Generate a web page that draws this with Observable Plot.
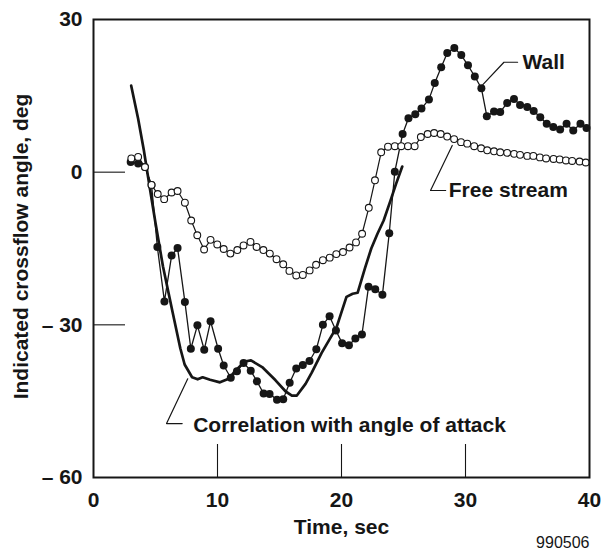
<!DOCTYPE html>
<html>
<head>
<meta charset="utf-8">
<script src="https://cdn.jsdelivr.net/npm/d3@7"></script>
<script src="https://cdn.jsdelivr.net/npm/@observablehq/plot@0.6"></script>
<style>
  html, body { margin: 0; padding: 0; background: #fff; }
  #chart { width: 603px; height: 550px; }
</style>
</head>
<body>
<div id="chart"></div>
<script>
// ---- Data ----
const wallTime = [3.0,3.6,4.15,4.68,5.15,5.72,6.3,6.78,7.37,7.85,8.38,8.93,9.44,10.05,10.5,11.07,11.57,12.1,12.68,13.18,13.72,14.2,14.8,15.3,15.82,16.35,16.88,17.42,17.97,18.5,19.04,19.55,20.05,20.6,21.12,21.65,22.18,22.72,23.3,23.85,24.3,24.93,25.4,25.95,26.45,27.05,27.52,28.04,28.53,29.1,29.66,30.2,30.75,31.28,31.72,32.3,32.8,33.36,33.91,34.4,34.98,35.5,36.03,36.55,37.08,37.63,38.15,38.69,39.27,39.76];
const wallAngle = [2.0,1.7,1.0,-2.5,-14.7,-25.4,-16.4,-14.9,-25.5,-34.7,-30.1,-34.9,-29.3,-34.7,-38.0,-40.4,-39.1,-37.5,-39.0,-41.1,-43.5,-43.6,-44.7,-44.6,-41.4,-38.6,-37.9,-37.1,-34.8,-30.0,-28.3,-31.1,-33.6,-34.0,-32.7,-31.9,-22.5,-23.0,-24.1,-12.0,0.1,7.5,10.6,11.4,12.5,14.3,17.5,20.6,23.4,24.4,23.0,21.0,18.8,16.5,11.0,11.9,11.8,13.6,14.4,13.2,12.8,12.0,10.8,9.5,8.9,8.4,9.5,8.2,9.5,8.7];

const freeTime = [3.05,3.6,4.15,4.68,5.18,5.7,6.3,6.78,7.37,7.88,8.37,8.92,9.44,9.98,10.5,11.04,11.6,12.1,12.66,13.15,13.7,14.22,14.76,15.3,15.8,16.35,16.88,17.43,17.95,18.5,19.05,19.58,20.12,20.65,21.17,21.66,22.2,22.7,23.2,23.75,24.3,24.82,25.36,25.9,26.4,26.95,27.47,28.0,28.52,29.08,29.64,30.14,30.7,31.26,31.75,32.3,32.8,33.36,33.92,34.4,34.98,35.47,36.0,36.5,37.1,37.6,38.1,38.6,39.2,39.7];
const freeAngle = [2.7,3.0,1.0,-2.5,-4.3,-5.3,-4.0,-3.7,-6.0,-9.5,-12.4,-15.2,-13.3,-14.2,-15.1,-16.0,-15.3,-14.4,-13.7,-14.7,-15.3,-16.0,-17.1,-18.1,-19.4,-20.3,-20.2,-19.3,-18.2,-17.3,-16.8,-16.1,-15.7,-14.8,-13.8,-12.1,-7.0,-1.6,3.9,5.0,5.1,5.1,5.1,5.1,6.9,7.5,7.7,7.5,7.0,6.5,5.9,5.6,5.1,4.7,4.3,4.1,3.9,3.8,3.6,3.4,3.2,3.2,2.9,2.7,2.6,2.5,2.3,2.2,2.1,1.9];

const corrTime = [3.04,3.6,4.06,4.6,5.0,5.6,6.35,7.0,7.35,7.95,8.4,8.8,9.4,10.2,10.9,11.45,12.2,12.7,13.6,14.68,15.5,16.0,16.4,17.1,17.6,18.4,19.0,19.6,20.4,20.9,21.3,21.9,22.4,22.9,23.4,23.95,24.4,24.9];
const corrAngle = [17.0,10.5,4.3,-4.0,-10.0,-18.5,-27.2,-34.6,-37.8,-40.3,-40.7,-40.3,-40.8,-41.3,-40.6,-39.0,-37.2,-37.0,-38.3,-40.9,-43.1,-43.9,-43.9,-41.6,-39.4,-35.5,-33.0,-30.5,-24.5,-23.9,-23.7,-18.8,-15.0,-12.1,-9.5,-5.6,-2.3,1.1];

const xTicks = [0, 10, 20, 30, 40];
const xInnerTicks = [10, 20, 30];
const yTicks = [30, 0, -30, -60];
const yInnerTicks = [0, -30];

// annotation labels (data units: time, angle)
const labelText = ["Wall", "Free stream", "Correlation with angle of attack"];
const labelTime = [34.6, 28.65, 8.04];
const labelAngle = [20.3, -4.9, -51.1];
// leader lines: start on curve, elbow, end near label
const leaderId    = ["w","w","w","f","f","f","c","c","c"];
const leaderTime  = [31.4, 33.1, 34.2, 28.93, 27.18, 28.4, 7.6, 5.89, 7.15];
const leaderAngle = [17.2, 21.6, 21.6, 5.25, -3.6, -3.6, -40.6, -49.4, -49.4];

const xLabel = "Time, sec";
const yLabel = "Indicated crossflow angle, deg";
const figId = "990506";

// ---- Build tables ----
const wall = wallTime.map((t, i) => ({t, a: wallAngle[i]}));
const free = freeTime.map((t, i) => ({t, a: freeAngle[i]}));
const corr = corrTime.map((t, i) => ({t, a: corrAngle[i]}));
const labels = labelText.map((s, i) => ({s, t: labelTime[i], a: labelAngle[i]}));
const leaders = leaderId.map((id, i) => ({id, t: leaderTime[i], a: leaderAngle[i]}));

const ink = "#161616";
const font = "'Liberation Sans', Arial, Helvetica, sans-serif";
const fmtY = d => d < 0 ? "\u2013 " + Math.abs(d) : String(d);

const chart = Plot.plot({
  width: 603,
  height: 550,
  marginLeft: 93,
  marginRight: 14,
  marginTop: 19,
  marginBottom: 73,
  style: {background: "#fff", color: ink, fontFamily: font, fontWeight: "bold", fontSize: "21px"},
  x: {domain: [0, 40]},
  y: {domain: [-60, 30]},
  marks: [
    Plot.axisY({ticks: yTicks, tickSize: 0, tickPadding: 11, tickFormat: fmtY, label: null, fontSize: 21}),
    Plot.axisY({ticks: yInnerTicks, tickSize: 32, dx: 32, tickFormat: () => "", label: null, strokeWidth: 1.1}),
    Plot.axisX({ticks: xTicks, tickSize: 0, tickPadding: 15, label: null, fontSize: 21}),
    Plot.axisX({ticks: xInnerTicks, tickSize: 33, dy: -33, tickFormat: () => "", label: null, strokeWidth: 1.1}),
    Plot.line(corr, {x: "t", y: "a", stroke: ink, strokeWidth: 2.7, strokeLinejoin: "round"}),
    Plot.line(free, {x: "t", y: "a", stroke: ink, strokeWidth: 1.2}),
    Plot.line(wall, {x: "t", y: "a", stroke: ink, strokeWidth: 1.3}),
    Plot.dot(wall, {x: "t", y: "a", r: 4, fill: ink, stroke: "none"}),
    Plot.dot(free, {x: "t", y: "a", r: 3.4, fill: "#fff", stroke: ink, strokeWidth: 1.1}),
    Plot.line(leaders, {x: "t", y: "a", z: "id", stroke: ink, strokeWidth: 1.2}),
    Plot.text(labels, {x: "t", y: "a", text: "s", textAnchor: "start", lineAnchor: "bottom", fontSize: 21, fontWeight: "bold", fill: ink}),
    Plot.text([xLabel], {text: d => d, frameAnchor: "bottom", dy: 56, textAnchor: "middle", lineAnchor: "bottom", fontSize: 21, fontWeight: "bold", fill: ink}),
    Plot.text([yLabel], {text: d => d, frameAnchor: "left", dx: -66, dy: -2, rotate: -90, textAnchor: "middle", lineAnchor: "bottom", fontSize: 21, fontWeight: "bold", fill: ink}),
    Plot.text([figId], {text: d => d, frameAnchor: "bottom-right", dy: 70, textAnchor: "end", lineAnchor: "bottom", fontSize: 16, fontWeight: "normal", fill: ink}),
    Plot.frame({stroke: ink, strokeWidth: 2})
  ]
});
document.getElementById("chart").appendChild(chart);
</script>
</body>
</html>
